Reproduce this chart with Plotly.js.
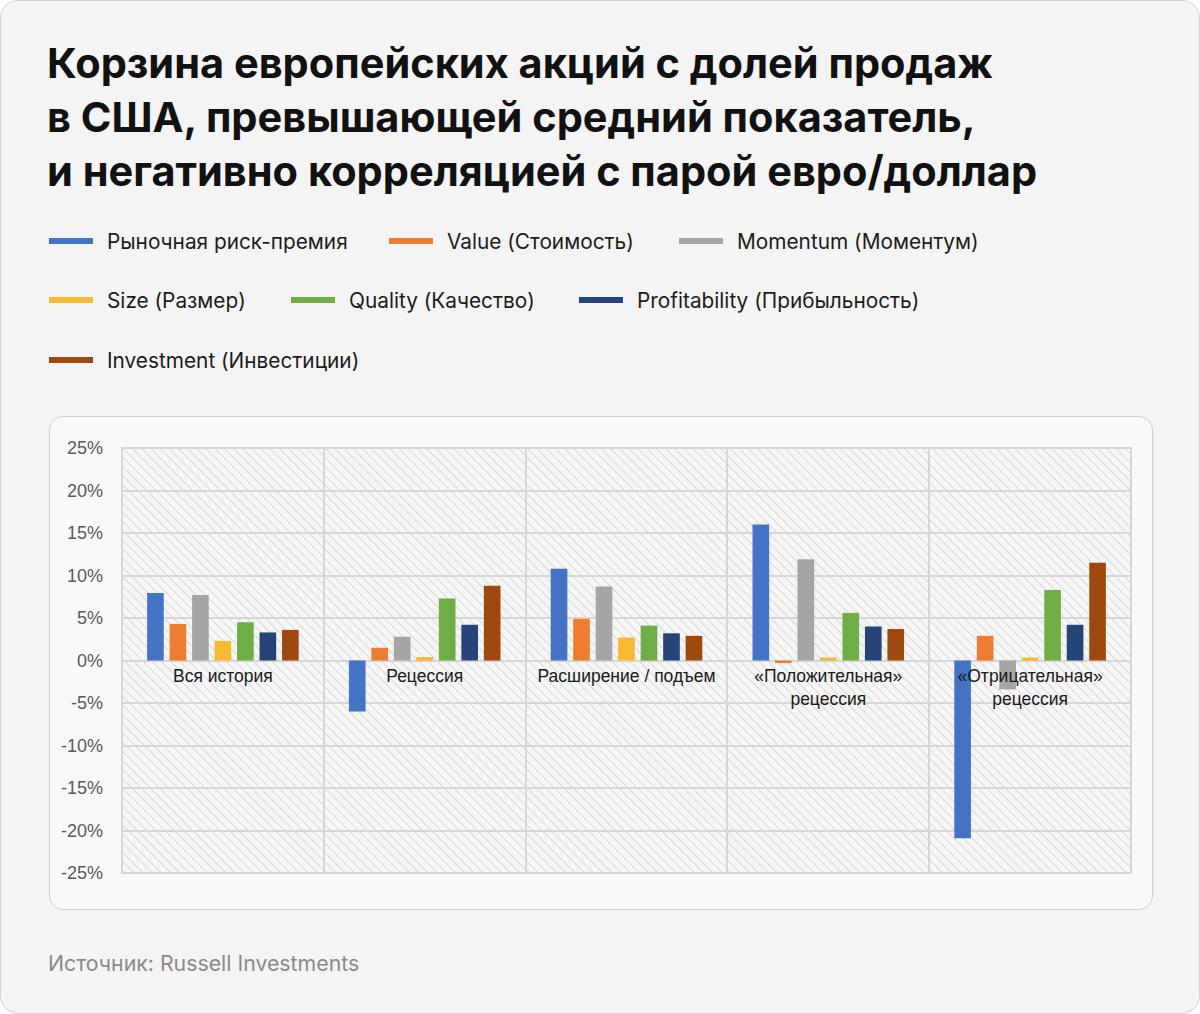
<!DOCTYPE html>
<html>
<head>
<meta charset="utf-8">
<script src="https://cdn.plot.ly/plotly-3.0.1.min.js"></script>
<style>
  html, body { margin: 0; padding: 0; background: #ffffff; }
  #frame { position: relative; width: 1200px; height: 1014px; box-sizing: border-box;
           background: #f4f4f4; border: 1px solid #d2d2d2; border-radius: 18px; overflow: hidden; }
  #card { position: absolute; left: 48px; top: 415px; width: 1104px; height: 494px; box-sizing: border-box;
          background: #f9f9f9; border: 1px solid #cfcfcf; border-radius: 14px; }
  #chart { position: absolute; left: -1px; top: -1px; width: 1200px; height: 1014px; }
</style>
</head>
<body>
<div id="frame">
  <div id="card"></div>
  <div id="chart"></div>
</div>
<script>
// ---- data (percent) ----
const categories = ['Вся история', 'Рецессия', 'Расширение / подъем', '«Положительная»<br>рецессия', '«Отрицательная»<br>рецессия'];
const seriesNames = ['Рыночная риск-премия', 'Value (Стоимость)', 'Momentum (Моментум)', 'Size (Размер)', 'Quality (Качество)', 'Profitability (Прибыльность)', 'Investment (Инвестиции)'];
const marketPremium = [7.95, -6.0, 10.8, 16.0, -20.9];
const valueFactor   = [4.3, 1.5, 4.9, -0.3, 2.9];
const momentum      = [7.7, 2.8, 8.7, 11.9, -3.4];
const sizeFactor    = [2.3, 0.4, 2.7, 0.35, 0.35];
const quality       = [4.5, 7.3, 4.1, 5.6, 8.3];
const profitability = [3.3, 4.2, 3.2, 4.0, 4.2];
const investment    = [3.6, 8.8, 2.9, 3.7, 11.5];
const yTickValues   = [-25, -20, -15, -10, -5, 0, 5, 10, 15, 20, 25];
const yTickLabels   = yTickValues.map(v => v + '%');

// ---- styling ----
const colors = ['#4472C4', '#ED7D31', '#A5A5A5', '#F6B930', '#70AD47', '#264478', '#9E480E'];
const seriesValues = [marketPremium, valueFactor, momentum, sizeFactor, quality, profitability, investment];

const W = 1200, H = 1014;
const M = {l: 122, r: 69, t: 448, b: 141};
const PW = W - M.l - M.r, PH = H - M.t - M.b;
const px2x = px => (px - M.l) / PW;
const py2y = py => (H - M.b - py) / PH;

const traces = seriesNames.map((name, i) => ({
  type: 'bar', name: name, x: categories, y: seriesValues[i],
  marker: {color: colors[i], line: {width: 0}},
  showlegend: false, hoverinfo: 'x+y+name'
}));

// hatched plot background
const hatchSvg = "<svg xmlns='http://www.w3.org/2000/svg' width='" + PW + "' height='" + PH + "'>" +
  "<defs><pattern id='h' width='6.5' height='6.5' patternUnits='userSpaceOnUse' patternTransform='rotate(-45)'>" +
  "<line x1='0' y1='0' x2='0' y2='6.5' stroke='#d2d2d2' stroke-width='1.6'/></pattern></defs>" +
  "<rect width='100%' height='100%' fill='#f6f6f6'/><rect width='100%' height='100%' fill='url(#h)'/></svg>";
const hatchUri = 'data:image/svg+xml;charset=utf-8,' + encodeURIComponent(hatchSvg);

// manual legend (line swatches + text)
const legendPos = [[48, 241], [388, 241], [678, 241], [48, 300], [290, 300], [578, 300], [48, 360]];
const uiFont = 'Inter, Roboto, sans-serif';
const shapes = [];
const annotations = [];
seriesNames.forEach((name, i) => {
  const [lx, ly] = legendPos[i];
  shapes.push({type: 'line', xref: 'paper', yref: 'paper',
    x0: px2x(lx + 1), x1: px2x(lx + 45), y0: py2y(ly), y1: py2y(ly),
    line: {color: colors[i], width: 6}});
  annotations.push({xref: 'paper', yref: 'paper', x: px2x(lx + 57), y: py2y(ly),
    xanchor: 'left', yanchor: 'middle', showarrow: false, text: name,
    font: {family: uiFont, size: 20.8, color: '#1c1c1c'}});
});
annotations.push({xref: 'paper', yref: 'paper', x: px2x(46), y: py2y(963),
  xanchor: 'left', yanchor: 'middle', showarrow: false, text: 'Источник: Russell Investments',
  font: {family: uiFont, size: 21.3, color: '#8a8a8a'}});

const layout = {
  width: W, height: H,
  margin: M,
  paper_bgcolor: 'rgba(0,0,0,0)',
  plot_bgcolor: 'rgba(0,0,0,0)',
  title: {
    text: 'Корзина европейских акций с долей продаж<br>в США, превышающей средний показатель,<br>и негативно корреляцией с парой евро/доллар',
    x: 47 / W, xref: 'container', xanchor: 'left',
    y: 1 - 78 / H, yref: 'container', yanchor: 'top',
    font: {family: 'Inter, Roboto, sans-serif', size: 41.5, color: '#111111', weight: 700}
  },
  barmode: 'group',
  bargap: 0.22,
  bargroupgap: 0.26,
  xaxis: {
    type: 'category', anchor: 'free', position: 0.5,
    tickson: 'boundaries', showgrid: true, gridcolor: '#d6d6d6', gridwidth: 2,
    ticks: '', showline: false, zeroline: false, fixedrange: true, ticklabelstandoff: 3,
    tickfont: {family: 'Liberation Sans, Arial, sans-serif', size: 17.5, color: '#1a1a1a'}
  },
  yaxis: {
    range: [-25, 25], tickvals: yTickValues, ticktext: yTickLabels,
    showgrid: true, gridcolor: '#d6d6d6', gridwidth: 2,
    zeroline: true, zerolinecolor: '#d6d6d6', zerolinewidth: 2,
    showline: false, ticks: '', ticklabelstandoff: 18, fixedrange: true,
    tickfont: {family: 'Liberation Sans, Arial, sans-serif', size: 18, color: '#5a5a5a'}
  },
  images: [{source: hatchUri, xref: 'paper', yref: 'paper', x: 0, y: 1, sizex: 1, sizey: 1,
    xanchor: 'left', yanchor: 'top', sizing: 'stretch', layer: 'below'}],
  shapes: shapes.concat([
    {type: 'rect', xref: 'paper', yref: 'paper', x0: 0, x1: 1, y0: 0, y1: 1,
     line: {color: '#d6d6d6', width: 2}, layer: 'below'}
  ]),
  annotations: annotations,
  showlegend: false
};

Plotly.newPlot('chart', traces, layout, {displayModeBar: false, staticPlot: true});
</script>
</body>
</html>
